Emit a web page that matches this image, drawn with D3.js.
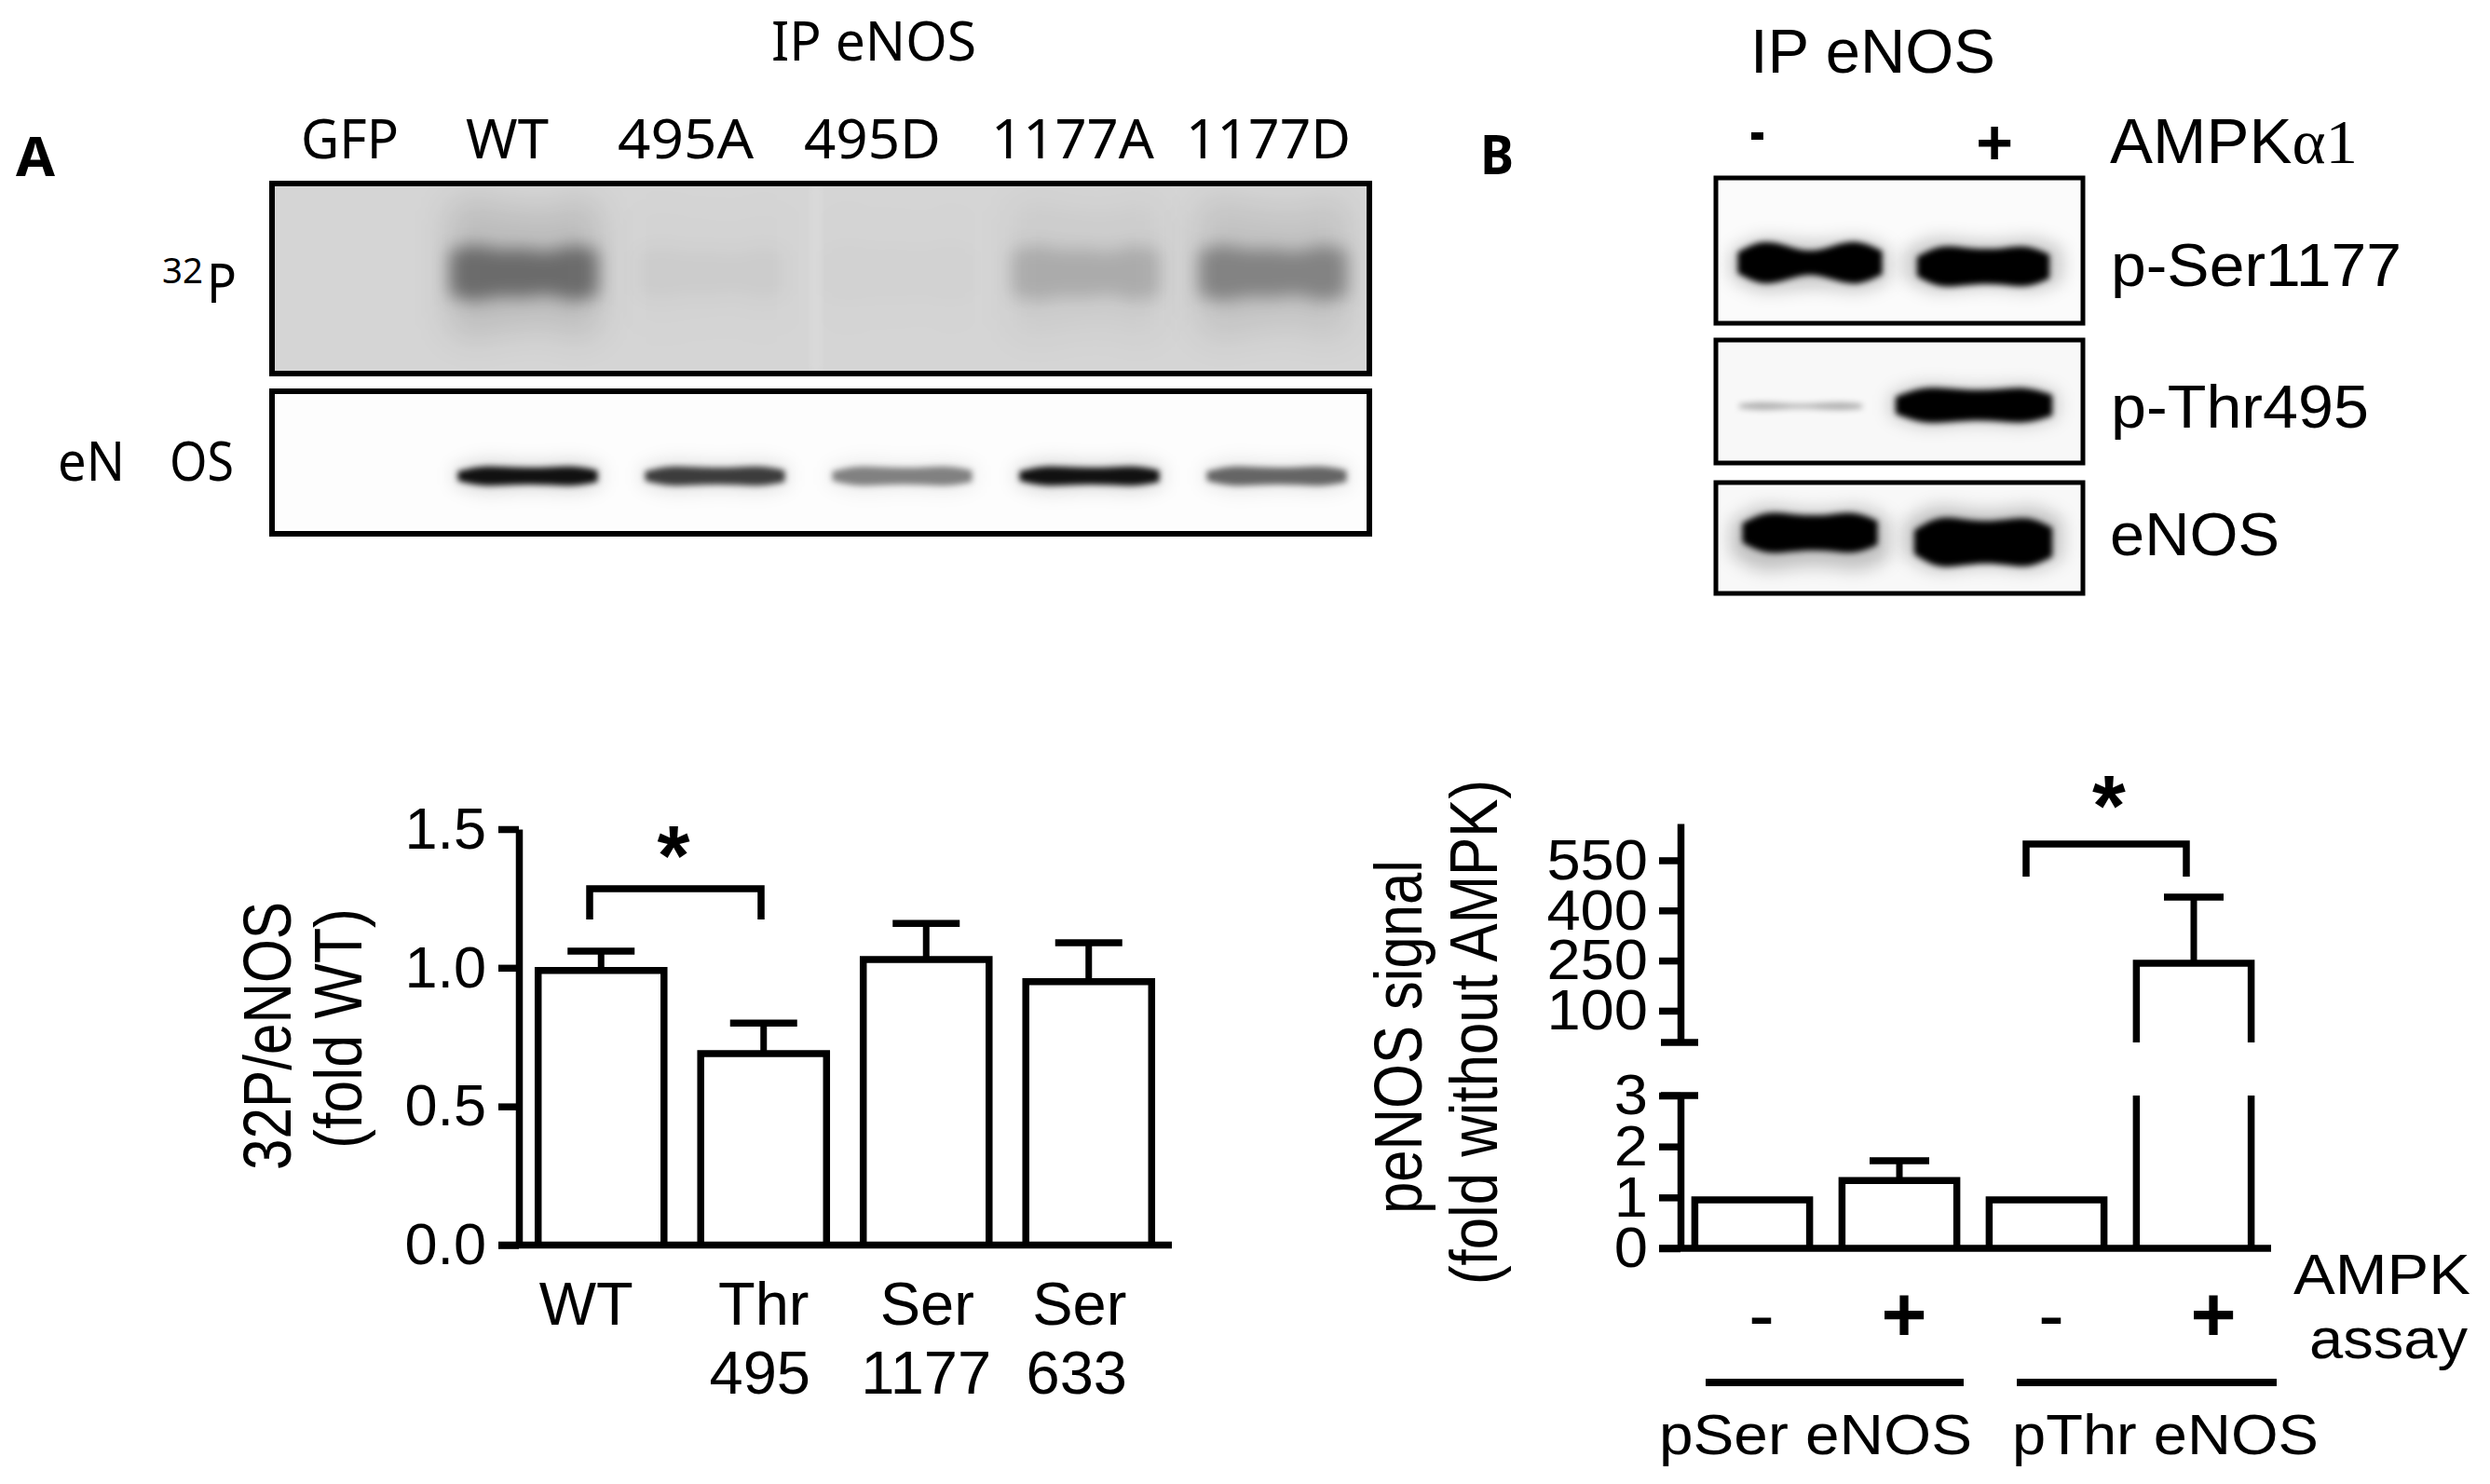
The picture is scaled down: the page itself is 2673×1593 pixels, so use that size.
<!DOCTYPE html>
<html>
<head>
<meta charset="utf-8">
<script src="https://cdnjs.cloudflare.com/ajax/libs/d3/7.8.5/d3.min.js"></script>
<style>
body { margin: 0; background: #fff; }
svg { display: block; }
text { fill: #000; font-family: "Liberation Sans", Arial, sans-serif; }
</style>
</head>
<body>
<div id="vis"></div>
<script>
// chart A
var sitesA = ['WT', 'Thr 495', 'Ser 1177', 'Ser 633'];
var ratioA = [0.99, 0.69, 1.03, 0.95];
var ratioUpperA = [1.06, 0.80, 1.16, 1.09];
var ticksA = [0, 0.5, 1.0, 1.5];

// chart B
var assaysB = ['pSer-', 'pSer+', 'pThr-', 'pThr+'];
var signsB = ['-', '+', '-', '+'];
var signalB = [0.95, 1.33, 0.95, 242];
var signalUpperB = [null, 1.72, null, 440];
var ticksLowB = [0, 1, 2, 3];
var ticksHighB = [100, 250, 400, 550];

// blots, darkness of each lane from 0 to 1
var lanesA = ['GFP', 'WT', '495A', '495D', '1177A', '1177D'];
var p32Signal = [0, 0.72, 0.05, 0.02, 0.27, 0.55];
var enosSignalA = [0, 1, 0.8, 0.5, 1, 0.62];
var lanesB = ['-', '+'];
var pSerSignal = [1, 1];
var pThrSignal = [0.3, 1];
var enosSignalB = [1, 1];
var smileProfile = [0.45, 1, 0.75, 0.4, 0.75, 1, 0.5];
var flatProfile = [0.45, 1, 0.9, 0.78, 0.85, 1, 0.55];
var mottledProfile = [0.7, 1, 0.7, 0.85, 0.6, 1, 0.7];

var width = 2673;
var height = 1593;

var svg = d3.select('#vis').append('svg')
    .attr('width', width)
    .attr('height', height);

var defs = svg.append('defs');
[3, 5, 9, 18].forEach(function (s) {
    defs.append('filter')
        .attr('id', 'blur' + s)
        .attr('x', '-50%').attr('y', '-300%')
        .attr('width', '200%').attr('height', '700%')
        .append('feGaussianBlur')
        .attr('stdDeviation', s);
});

function label(txt, x, y, o) {
    o = o || {};
    var t = svg.append('text')
        .attr('font-size', o.size || 60)
        .attr('font-weight', o.weight || 'normal')
        .attr('text-anchor', o.anchor || 'start')
        .text(txt);
    if (o.family) t.style('font-family', o.family);
    if (o.length) t.attr('textLength', o.length).attr('lengthAdjust', 'spacingAndGlyphs');
    if (o.rotate) {
        t.attr('transform', 'translate(' + x + ',' + y + ') rotate(-90) scale(1,' + (o.stretch || 1) + ')');
    } else {
        t.attr('x', x).attr('y', y);
    }
    return t;
}

function drawBar(g, x, w, top, bottom, closed) {
    var d = 'M' + x + ',' + bottom + 'V' + top + 'H' + (x + w) + 'V' + bottom;
    g.append('path')
        .attr('d', d)
        .attr('fill', closed ? '#fff' : 'none')
        .attr('stroke', '#000')
        .attr('stroke-width', 7.5);
}

function drawError(g, cx, top, upper, capWidth) {
    g.append('line').attr('x1', cx).attr('x2', cx).attr('y1', top).attr('y2', upper)
        .attr('stroke', '#000').attr('stroke-width', 7);
    g.append('line').attr('x1', cx - capWidth / 2).attr('x2', cx + capWidth / 2).attr('y1', upper).attr('y2', upper)
        .attr('stroke', '#000').attr('stroke-width', 7.5);
}

function drawBracket(x0, x1, top, bottom) {
    svg.append('path')
        .attr('d', 'M' + x0 + ',' + bottom + 'V' + top + 'H' + x1 + 'V' + bottom)
        .attr('fill', 'none')
        .attr('stroke', '#000')
        .attr('stroke-width', 7.5);
}

function styleAxis(g, size, widen) {
    g.selectAll('path,line').attr('stroke', '#000').attr('stroke-width', 7.5);
    g.selectAll('text')
        .attr('font-size', size)
        .style('font-family', '"Liberation Sans", Arial, sans-serif')
        .each(function () {
            if (widen) {
                d3.select(this)
                    .attr('textLength', this.getComputedTextLength() * widen)
                    .attr('lengthAdjust', 'spacingAndGlyphs');
            }
        });
}

// ---- chart A bars ----
var xA = d3.scaleBand().domain(sitesA).range([558, 1256]).paddingInner(0.226).paddingOuter(0.113);
var yA = d3.scaleLinear().domain([0, 1.5]).range([1336.5, 890]);
var chartA = svg.append('g').attr('id', 'chartA');

sitesA.forEach(function (s, i) {
    drawError(chartA, xA(s) + xA.bandwidth() / 2, yA(ratioA[i]), yA(ratioUpperA[i]), 72);
    drawBar(chartA, xA(s), xA.bandwidth(), yA(ratioA[i]), yA(0), true);
});

chartA.append('g')
    .attr('transform', 'translate(557,0)')
    .call(d3.axisLeft(yA).tickValues(ticksA).tickFormat(d3.format('.1f')).tickSize(22).tickSizeOuter(0).tickPadding(13))
    .call(styleAxis, 63);
chartA.append('line')
    .attr('x1', 535).attr('x2', 1258).attr('y1', yA(0)).attr('y2', yA(0))
    .attr('stroke', '#000').attr('stroke-width', 7.5);

var firstLineDx = [-16, 0, 1, -10];
var secondLineDx = [0, -4, 0, -13];
var axisA = chartA.append('g')
    .attr('transform', 'translate(0,' + yA(0) + ')')
    .call(d3.axisBottom(xA).tickSize(0));
axisA.select('.domain').remove();
axisA.selectAll('text')
    .attr('y', 0).attr('dy', 0)
    .attr('font-size', 65)
    .style('font-family', '"Liberation Sans", Arial, sans-serif')
    .each(function (d, i) {
        var parts = d.split(' ');
        var t = d3.select(this).text(null);
        t.append('tspan').attr('x', firstLineDx[i]).attr('y', 85).text(parts[0]);
        if (parts[1]) t.append('tspan').attr('x', secondLineDx[i]).attr('y', 159).text(parts[1]);
    });

label('32P/eNOS', 312, 1112, {rotate: true, anchor: 'middle', length: 288, stretch: 1.2});
label('(fold WT)', 388, 1104, {rotate: true, anchor: 'middle', length: 258, stretch: 1.2});
label('*', 723, 950, {anchor: 'middle', size: 90, weight: 'bold'});
drawBracket(633, 817, 954, 987);

// ---- chart B bars ----
var xB = d3.scaleBand().domain(assaysB).range([1802, 2434]).paddingInner(0.22).paddingOuter(0.11);
var yLow = d3.scaleLinear().domain([0, 3]).range([1340, 1176]);
var yHigh = d3.scaleLinear().domain([5, 660]).range([1119, 884]);
var chartB = svg.append('g').attr('id', 'chartB');

assaysB.forEach(function (s, i) {
    var cx = xB(s) + xB.bandwidth() / 2;
    if (signalB[i] > yLow.domain()[1]) {
        drawError(chartB, cx, yHigh(signalB[i]), yHigh(signalUpperB[i]), 64);
        drawBar(chartB, xB(s), xB.bandwidth(), yHigh(signalB[i]), yHigh.range()[0], true);
        chartB.append('path')
            .attr('d', 'M' + xB(s) + ',' + yLow(3) + 'V' + yLow(0) + 'M' + (xB(s) + xB.bandwidth()) + ',' + yLow(3) + 'V' + yLow(0))
            .attr('stroke', '#000').attr('stroke-width', 7.5);
    } else {
        if (signalUpperB[i] !== null) drawError(chartB, cx, yLow(signalB[i]), yLow(signalUpperB[i]), 64);
        drawBar(chartB, xB(s), xB.bandwidth(), yLow(signalB[i]), yLow(0), true);
    }
});

chartB.append('g')
    .attr('transform', 'translate(1804,0)')
    .call(d3.axisLeft(yHigh).tickValues(ticksHighB).tickSize(23).tickSizeOuter(0).tickPadding(12))
    .call(styleAxis, 62, 1.05);
chartB.append('g')
    .attr('transform', 'translate(1804,0)')
    .call(d3.axisLeft(yLow).tickValues(ticksLowB).tickFormat(d3.format('d')).tickSize(23).tickSizeOuter(0).tickPadding(12))
    .call(styleAxis, 62, 1.05);
// the two end caps at the axis break stick out on both sides
[yHigh.range()[0], yLow(3)].forEach(function (y) {
    chartB.append('line').attr('x1', 1783).attr('x2', 1823).attr('y1', y).attr('y2', y)
        .attr('stroke', '#000').attr('stroke-width', 7.5);
});
chartB.append('line')
    .attr('x1', 1781).attr('x2', 2438).attr('y1', yLow(0)).attr('y2', yLow(0))
    .attr('stroke', '#000').attr('stroke-width', 7.5);

var signDx = [10, 5, 5, 21];
var axisB = chartB.append('g')
    .attr('transform', 'translate(0,' + yLow(0) + ')')
    .call(d3.axisBottom(xB).tickSize(0).tickFormat(function (d, i) { return signsB[i]; }));
axisB.select('.domain').remove();
axisB.selectAll('text')
    .attr('x', function (d, i) { return signDx[i]; })
    .attr('y', 100).attr('dy', 0)
    .attr('font-size', 84)
    .attr('font-weight', function (d, i) { return signsB[i] === '+' ? 'bold' : 'normal'; })
    .style('font-family', '"Liberation Sans", Arial, sans-serif');

[[1831, 2108], [2165, 2444]].forEach(function (r) {
    chartB.append('line').attr('x1', r[0]).attr('x2', r[1]).attr('y1', 1484).attr('y2', 1484)
        .attr('stroke', '#000').attr('stroke-width', 8);
});
label('pSer eNOS', 1781, 1561, {size: 62, length: 336});
label('pThr eNOS', 2160, 1561, {size: 62, length: 329});
label('AMPK', 2462, 1389, {size: 62, length: 190});
label('assay', 2479, 1458, {size: 62, length: 170});
label('peNOS signal', 1526, 1113, {rotate: true, anchor: 'middle', length: 380, stretch: 1.2});
label('(fold without AMPK)', 1607, 1108, {rotate: true, anchor: 'middle', length: 542, stretch: 1.2});
label('*', 2264, 897, {anchor: 'middle', size: 92, weight: 'bold'});
drawBracket(2175, 2347, 906, 941);

// ---- blots ----
var clipCount = 0;
function blotBox(x0, x1, y0, y1, fill, strokeWidth) {
    var id = 'clip' + (clipCount++);
    defs.append('clipPath').attr('id', id).append('rect')
        .attr('x', x0).attr('y', y0).attr('width', x1 - x0).attr('height', y1 - y0);
    svg.append('rect')
        .attr('x', x0).attr('y', y0).attr('width', x1 - x0).attr('height', y1 - y0)
        .attr('fill', fill);
    var g = svg.append('g').attr('clip-path', 'url(#' + id + ')');
    svg.append('rect')
        .attr('x', x0).attr('y', y0).attr('width', x1 - x0).attr('height', y1 - y0)
        .attr('fill', 'none').attr('stroke', '#000').attr('stroke-width', strokeWidth);
    return g;
}

function drawBand(g, cx, cy, w, h, darkness, profile, blur) {
    var t = d3.scaleLinear().domain([0, profile.length - 1]).range([cx - w / 2, cx + w / 2]);
    var area = d3.area()
        .x(function (d, i) { return t(i); })
        .y0(function (d) { return cy - h / 2 * d; })
        .y1(function (d) { return cy + h / 2 * d; })
        .curve(d3.curveBasis);
    g.append('path')
        .attr('d', area(profile))
        .attr('fill', '#000')
        .attr('fill-opacity', darkness)
        .attr('filter', 'url(#blur' + blur + ')');
}

var laneA = d3.scaleBand().domain(lanesA).range([261, 1467]).paddingInner(0.23).paddingOuter(0.115);
var laneB = d3.scaleBand().domain(lanesB).range([1850, 2222]).paddingInner(0.24).paddingOuter(0.12);

var p32Gel = blotBox(292, 1470, 197, 401, '#d5d5d5', 6);
p32Gel.append('rect').attr('x', 872).attr('y', 197).attr('width', 8).attr('height', 204)
    .attr('fill', '#dcdcdc').attr('filter', 'url(#blur5)');
lanesA.forEach(function (l, i) {
    var cx = laneA(l) + laneA.bandwidth() / 2;
    if (p32Signal[i] === 0) return;
    drawBand(p32Gel, cx, 288, 165, 170, p32Signal[i] * 0.16, mottledProfile, 18);
    drawBand(p32Gel, cx, 293, 160, 66, p32Signal[i] * 0.6, mottledProfile, 9);
});

var enosGelA = blotBox(292, 1470, 420, 573, '#fdfdfd', 6);
lanesA.forEach(function (l, i) {
    var cx = laneA(l) + laneA.bandwidth() / 2;
    if (enosSignalA[i] === 0) return;
    drawBand(enosGelA, cx + 4, 511, 160, 40, enosSignalA[i] * 0.12, flatProfile, 9);
    drawBand(enosGelA, cx + 4, 511, 150, 22, enosSignalA[i] * 0.92, flatProfile, 3);
});

var pSerBlot = blotBox(1842, 2236, 191, 347, '#fbfbfb', 5);
lanesB.forEach(function (l, i) {
    var cx = laneB(l) + laneB.bandwidth() / 2;
    drawBand(pSerBlot, cx, 284, 170, 62, pSerSignal[i] * 0.2, flatProfile, 9);
});
drawBand(pSerBlot, laneB('-') + laneB.bandwidth() / 2, 282, 155, 50, pSerSignal[0], smileProfile, 3);
drawBand(pSerBlot, laneB('+') + laneB.bandwidth() / 2, 286, 142, 46, pSerSignal[1], flatProfile, 3);

var pThrBlot = blotBox(1842, 2236, 365, 497, '#f8f8f8', 5);
drawBand(pThrBlot, laneB('-') + laneB.bandwidth() / 2 - 10, 436, 132, 9, pThrSignal[0], smileProfile, 3);
drawBand(pThrBlot, laneB('+') + laneB.bandwidth() / 2 - 10, 435, 168, 40, pThrSignal[1], flatProfile, 3);
drawBand(pThrBlot, laneB('+') + laneB.bandwidth() / 2 - 10, 435, 180, 48, pThrSignal[1] * 0.2, flatProfile, 9);

var enosBlotB = blotBox(1842, 2236, 518, 637, '#f8f8f8', 5);
lanesB.forEach(function (l, i) {
    var cx = laneB(l) + laneB.bandwidth() / 2;
    drawBand(enosBlotB, cx, 578, 170, 74, enosSignalB[i] * 0.22, flatProfile, 9);
    drawBand(enosBlotB, cx, i === 0 ? 572 : 582, i === 0 ? 145 : 148, i === 0 ? 46 : 56, enosSignalB[i], flatProfile, 3);
});

// ---- blot labels ----
var noto = '"Noto Sans", sans-serif';
label('IP eNOS', 828, 65, {family: noto, size: 58, length: 220});
label('GFP', 323, 170, {family: noto, size: 58, length: 105});
label('WT', 500, 170, {family: noto, size: 58, length: 89});
label('495A', 663, 170, {family: noto, size: 58, length: 146});
label('495D', 863, 170, {family: noto, size: 58, length: 147});
label('1177A', 1064, 170, {family: noto, size: 58, length: 175});
label('1177D', 1273, 170, {family: noto, size: 58, length: 177});
label('A', 17, 189, {family: noto, size: 60, weight: 'bold', length: 42});
label('32', 174, 304, {family: noto, size: 38, length: 44});
label('P', 222, 325, {family: noto, size: 58, length: 32});
label('eN', 62, 516, {family: noto, size: 58, length: 72});
label('OS', 182, 516, {family: noto, size: 58, length: 69});

label('IP eNOS', 1879, 78, {size: 66, length: 263});
label('-', 1878, 163, {size: 66, weight: 'bold', length: 17});
label('+', 2141, 176, {size: 68, weight: 'bold', anchor: 'middle'});
var ampk = label('AMPK', 2265, 175, {size: 68, length: 266});
ampk.append('tspan').style('font-family', '"Liberation Serif", serif').text('\u03b11');
label('B', 1589, 187, {family: noto, size: 60, weight: 'bold', length: 36});
label('p-Ser1177', 2266, 307, {size: 64, length: 312});
label('p-Thr495', 2266, 459, {size: 64, length: 277});
label('eNOS', 2265, 596, {size: 64, length: 182});
</script>
</body>
</html>
